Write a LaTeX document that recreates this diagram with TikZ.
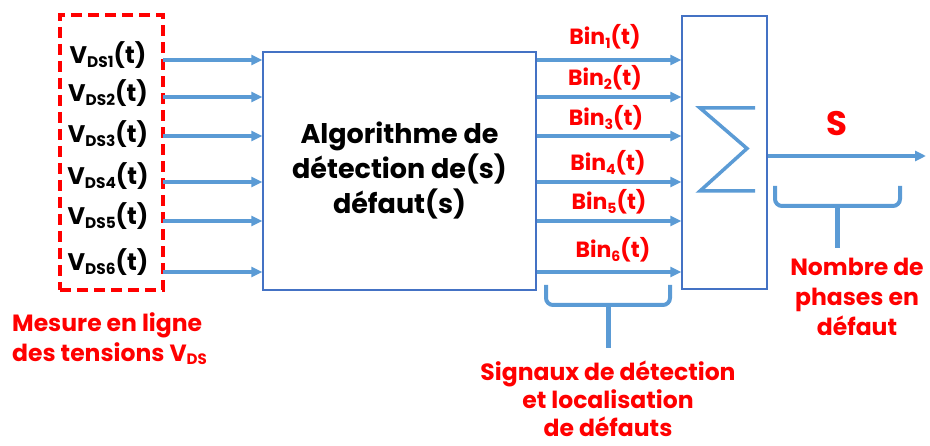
\documentclass[tikz,border=0pt]{standalone}
\usepackage{fontspec}
\setmainfont{Poppins}
\usepackage{xcolor}
\usepackage{tikz}
\usetikzlibrary{arrows.meta, positioning, calc}

\definecolor{linkblue}{RGB}{91,155,213}
\definecolor{frameblue}{RGB}{68,114,196}
\definecolor{alertred}{RGB}{255,0,0}
\makeatletter
\newcommand{\lowidx}[1]{\raisebox{-0.3ex}{\fontsize{\fpeval{0.64*\f@size}}{0}\selectfont #1}}
\makeatother

\begin{document}
\begin{tikzpicture}[
    x=1pt, y=-1pt,
    algobox/.style={rectangle, draw=frameblue, line width=1.3pt, minimum width=273pt, minimum height=238pt, align=center, font=\bfseries\fontsize{27}{35}\selectfont},
    sumbox/.style={rectangle, draw=frameblue, line width=1.3pt, minimum width=85pt, minimum height=273pt},
    measbox/.style={rectangle, draw=alertred, line width=3.5pt, dash pattern=on 11pt off 6pt, minimum width=103pt, minimum height=275pt},
    vlabel/.style={font=\bfseries\fontsize{24}{26}\selectfont, inner sep=0pt},
    binlabel/.style={font=\bfseries\fontsize{22}{24}\selectfont, text=alertred, inner sep=0pt},
    note/.style={font=\bfseries\fontsize{23.5}{30}\selectfont, text=alertred, align=center, inner sep=0pt},
    arrow/.style={-{Triangle[length=11pt, width=10pt]}, line width=3.3pt, draw=linkblue},
    brace/.style={line width=4pt, draw=linkblue, rounded corners=7pt}
]
\useasboundingbox (0,0) rectangle (930,446);

\node[measbox] (meas) at (111.5,152.5) {};
\node[algobox] (algo) at (399.5,171) {Algorithme de\\détection de(s)\\défaut(s)};
\node[sumbox] (sum) at (724.5,152.5) {};

% sigma sign
\draw[line width=3.5pt, draw=linkblue]
    ($(sum.center)+(30.5,-44.5)$) -- ($(sum.center)+(-24.5,-44.5)$)
    -- ($(sum.center)+(22.5,-4)$) -- ($(sum.center)+(-24.5,38.5)$)
    -- ($(sum.center)+(30.5,38.5)$);

% inputs and binary signals
\foreach \i/\y/\dy in {1/60/-5, 2/97/-4, 3/136/-2, 4/182/-6, 5/221/-5, 6/272/-10} {
    \coordinate (in\i) at (163,\y);
    \node[vlabel] (vds\i) at (108,\y+\dy) {V\lowidx{DS\i}(t)};
    \draw[arrow] (in\i) -- (in\i -| algo.west);
    \draw[arrow] (in\i -| algo.east) -- (in\i -| sum.west);
}
\node[binlabel] (bin1) at (605,37) {Bin\lowidx{1}(t)};
\node[binlabel] (bin2) at (605,78) {Bin\lowidx{2}(t)};
\node[binlabel] (bin3) at (606,118) {Bin\lowidx{3}(t)};
\node[binlabel] (bin4) at (608,163) {Bin\lowidx{4}(t)};
\node[binlabel] (bin5) at (609,202) {Bin\lowidx{5}(t)};
\node[binlabel] (bin6) at (613,250) {Bin\lowidx{6}(t)};

% output
\coordinate (out) at (926,156);
\draw[arrow] (sum.east |- out) -- (out);
\node[font=\bfseries\fontsize{34}{36}\selectfont, text=alertred, inner sep=0pt] (sout) at (837,124) {S};

% braces
\draw[brace] (775,186) -- (775,206) -- (900,206) -- (900,186);
\draw[line width=5pt, draw=linkblue] (837,206) -- (837,248) coordinate (nbtip);
\draw[brace] (546,285) -- (546,305) -- (670,305) -- (670,285);
\draw[line width=5pt, draw=linkblue] (608,305) -- (608,348) coordinate (sigtip);

% notes
\node[note, below=10pt of nbtip, xshift=20pt] (nbphase) {Nombre de\\phases en\\défaut};
\node[note, below=13pt of sigtip, font=\bfseries\fontsize{23.5}{28}\selectfont] (signaux) {Signaux de détection\\et localisation\\de défauts};
\node[note, align=left, anchor=north west] (mesure) at (12,312) {Mesure en ligne\\des tensions V\lowidx{DS}};
\end{tikzpicture}
\end{document}
